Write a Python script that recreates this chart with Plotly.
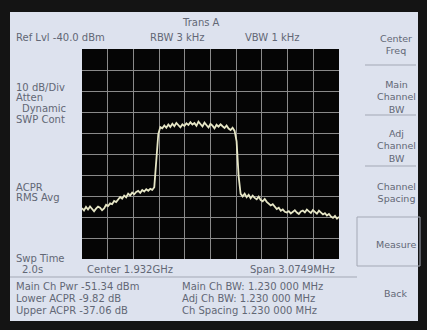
import numpy as np
import plotly.graph_objects as go

# Sweep settings
center_mhz = 1932.0
span_mhz = 3.0749
ref_level = -40.0
db_per_div = 10.0

# Trace A amplitude readings (dBm), left to right across the span
trace_dbm = [
    -115.8, -116.9, -115.2, -116.4, -115.0, -116.2, -117.3, -116.0, -115.1,
    -115.6, -116.8, -115.9, -114.2, -114.8, -113.5, -113.9, -112.4, -112.9,
    -111.6, -110.5, -111.3, -109.8, -110.6, -108.9, -109.7, -108.4, -109.2,
    -108.1, -107.6, -108.5, -107.2, -107.9, -106.8, -107.5, -106.6, -107.1,
    -105.8, -95.0, -80.5, -77.2,
    -77.8, -76.4, -77.5, -76.0, -77.1, -75.6, -76.8, -75.2, -76.5, -77.3,
    -75.9, -76.7, -75.4, -76.2, -74.9, -76.0, -75.3, -76.6, -74.6, -75.8,
    -76.9, -75.1, -76.3, -77.4, -75.7, -76.5, -77.8, -76.1, -77.0, -75.9,
    -76.8, -77.6, -76.4, -77.9, -78.6, -77.5, -79.0,
    -84.0, -100.5, -109.0,
    -110.2, -108.9, -110.6, -109.4, -111.1, -109.8, -110.9, -111.6, -110.3,
    -111.9, -112.5, -111.4, -112.8,
    -113.6, -114.5, -113.9, -115.3, -116.2, -115.6, -117.0, -116.4, -117.5,
    -117.9,
    -117.2, -118.3, -117.6, -116.8, -117.9, -118.6, -117.4, -116.9, -117.8,
    -116.5, -117.3, -118.1, -116.7, -117.5, -118.4, -117.0, -117.9, -118.8,
    -118.2, -119.3, -118.6, -119.8, -120.4, -119.5, -120.8, -119.9,
]

header_labels = ["Ref Lvl -40.0 dBm", "RBW 3 kHz", "VBW 1 kHz"]
side_labels = ["10 dB/Div", "Atten", "Dynamic", "SWP Cont", "ACPR", "RMS Avg", "Swp Time", "2.0s"]
footer_left = ["Main Ch Pwr -51.34 dBm", "Lower ACPR -9.82 dB", "Upper ACPR -37.06 dB"]
footer_right = ["Main Ch BW: 1.230 000 MHz", "Adj Ch BW: 1.230 000 MHz", "Ch Spacing 1.230 000 MHz"]
softkeys = ["Center<br>Freq", "Main<br>Channel<br>BW", "Adj<br>Channel<br>BW",
            "Channel<br>Spacing", "Measure", "Back"]

f_start = center_mhz - span_mhz / 2
f_stop = center_mhz + span_mhz / 2
freqs = np.linspace(f_start, f_stop, len(trace_dbm))

W, H = 427, 330
PL, PR, PT, PB = 82, 339, 49, 259  # graticule box in pixels

def px(x):
    return (x - PL) / (PR - PL)

def py(y):
    return (PB - y) / (PB - PT)

PANEL = "#dde2ee"
BEZEL = "#141414"
INK = "#626775"
LINE = "#a3a8b5"
FONT = "DejaVu Sans"

fig = go.Figure()
fig.add_trace(go.Scatter(
    x=freqs, y=trace_dbm, mode="lines",
    line=dict(color="#e6e6c6", width=1.8),
    hoverinfo="skip", showlegend=False,
))

shapes = []
# bezel around the screen
for x0, y0, x1, y1 in [(0, 0, W, 12), (0, 0, 10, H), (418, 0, W, H), (0, 321, W, H)]:
    shapes.append(dict(type="rect", xref="paper", yref="paper",
                       x0=px(x0), x1=px(x1), y0=py(y1), y1=py(y0),
                       fillcolor=BEZEL, line=dict(width=0), layer="above"))
# softkey separators
for y in [65, 115, 166]:
    shapes.append(dict(type="line", xref="paper", yref="paper",
                       x0=px(365), x1=px(416), y0=py(y), y1=py(y),
                       line=dict(color=LINE, width=1)))
# highlighted Measure key frame
shapes.append(dict(type="rect", xref="paper", yref="paper",
                   x0=px(357), x1=px(420), y0=py(266), y1=py(217),
                   line=dict(color=LINE, width=1)))
# rule under the frequency readout
shapes.append(dict(type="line", xref="paper", yref="paper",
                   x0=px(10), x1=px(357), y0=py(277), y1=py(277),
                   line=dict(color=LINE, width=1)))

ann = []

def label(text, x, y, anchor="left", size=10):
    ann.append(dict(text=text, x=px(x), y=py(y), xref="paper", yref="paper",
                    xanchor=anchor, yanchor="middle", showarrow=False,
                    font=dict(family=FONT, size=size, color=INK)))

label("Trans A", 201, 22, "center")
for t, x in zip(header_labels, [14, 148, 243]):
    label(t, x, 38)
side_pos = [(14, 87), (14, 97), (20, 108), (14, 119), (14, 187), (14, 198), (14, 258), (20, 269)]
for t, (x, y) in zip(side_labels, side_pos):
    label(t, x, y)
label("Center 1.932GHz", 85, 269)
label("Span 3.0749MHz", 337, 269, "right")
for t, y in zip(footer_left, [286, 298, 310]):
    label(t, 14, y)
for t, y in zip(footer_right, [286, 298, 310]):
    label(t, 180, y)
for t, y in zip(softkeys, [44, 97, 146, 192, 244, 293]):
    ann.append(dict(text=t, x=px(396), y=py(y), xref="paper", yref="paper",
                    xanchor="center", yanchor="middle", showarrow=False,
                    font=dict(family=FONT, size=9.5, color=INK)))

fig.update_layout(
    width=W, height=H,
    margin=dict(l=PL, r=W - PR, t=PT, b=H - PB),
    paper_bgcolor=PANEL, plot_bgcolor="#050505",
    shapes=shapes, annotations=ann,
    xaxis=dict(range=[f_start, f_stop], tick0=f_start, dtick=span_mhz / 10,
               showgrid=True, gridcolor="#8a8a8a", gridwidth=1,
               showticklabels=False, zeroline=False, ticks="", fixedrange=True),
    yaxis=dict(range=[ref_level - 10 * db_per_div, ref_level], tick0=ref_level, dtick=db_per_div,
               showgrid=True, gridcolor="#8a8a8a", gridwidth=1,
               showticklabels=False, zeroline=False, ticks="", fixedrange=True),
)

fig.write_html("out.html")
